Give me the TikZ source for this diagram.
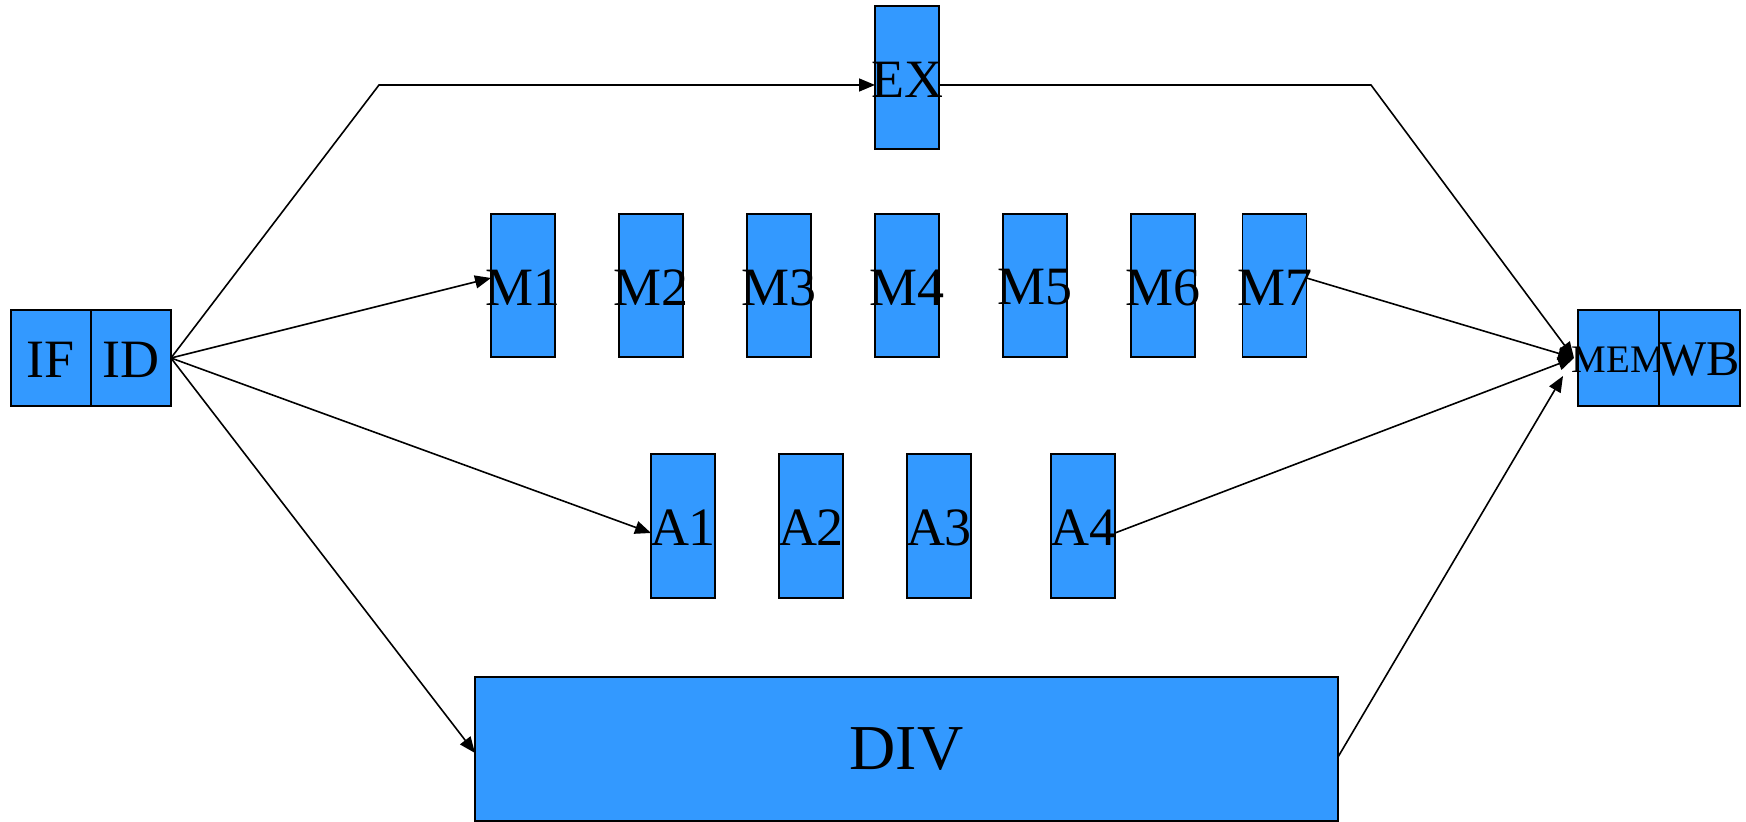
\documentclass[tikz,border=0pt]{standalone}
\usepackage{fontspec}
\setmainfont{Liberation Serif}
\usetikzlibrary{arrows.meta,calc}
\definecolor{boxblue}{RGB}{51,153,255}
\tikzset{
  blk/.style={draw=black, fill=boxblue, line width=0.9pt, inner sep=0pt, outer sep=0pt, rectangle},
  tall/.style={blk, minimum width=32pt, minimum height=71.5pt},
  half/.style={blk, minimum width=40pt, minimum height=48pt},
  lf/.style={label={[font=\fontsize{27}{27}\selectfont, inner sep=0pt, yshift=-1pt]center:#1}},
  conn/.style={line width=0.8pt, -{Triangle[length=8pt,width=6.5pt]}},
}
\begin{document}
\begin{tikzpicture}[x=0.5pt,y=-0.5pt]
\useasboundingbox (0,0) rectangle (1746,822);
% left pipeline boxes
\node[half, lf=IF] (if) at (51,358) {};
\node[half, lf=ID] (id) at (131,358) {};
% right pipeline boxes
\node[half, minimum width=40.5pt, label={[font=\fontsize{19.5}{19.5}\selectfont, inner sep=0pt, yshift=-1pt]center:MEM}] (mem) at (1618.5,358) {};
\node[half, minimum width=40.5pt, label={[font=\fontsize{25}{25}\selectfont, inner sep=0pt, yshift=-1pt]center:WB}] (wb) at (1699.5,358) {};
% EX
\node[tall, lf=EX] (ex) at (907,77.5) {};
% multiplier stages
\node[tall, lf=M1] (m1) at (523,285.5) {};
\node[tall, lf=M2] (m2) at (651,285.5) {};
\node[tall, lf=M3] (m3) at (779,285.5) {};
\node[tall, lf=M4] (m4) at (907,285.5) {};
\node[tall, lf=M5] (m5) at (1035,285.5) {};
\node[tall, lf=M6] (m6) at (1163,285.5) {};
\node[tall, lf=M7] (m7) at (1274.5,285.5) {};
% adder stages
\node[tall, minimum height=72pt, lf=A1] (a1) at (683,526) {};
\node[tall, minimum height=72pt, lf=A2] (a2) at (811,526) {};
\node[tall, minimum height=72pt, lf=A3] (a3) at (939,526) {};
\node[tall, minimum height=72pt, lf=A4] (a4) at (1083,526) {};
% divider
\node[blk, minimum width=431.5pt, minimum height=72pt,
      label={[font=\fontsize{32}{32}\selectfont, inner sep=0pt]center:DIV}] (div) at (906.5,749) {};
% route points
\coordinate (c1) at (379,85);
\coordinate (c2) at (1371,85);
\coordinate (memin) at (1574,358);
\coordinate (memin2) at (1563,376);
% connectors
\draw[conn] (id.east) -- (c1) -- ($(ex.west)+(0,7.5)$);
\draw[conn] ($(ex.east)+(0,7.5)$) -- (c2) -- (memin);
\draw[conn] (id.east) -- ($(m1.west)+(0,-7.5)$);
\draw[conn] ($(m7.east)+(0,-7.5)$) -- (memin);
\draw[conn] (id.east) -- ($(a1.west)+(0,7)$);
\draw[conn] ($(a4.east)+(0,7)$) -- (memin);
\draw[conn] (id.east) -- ($(div.west)+(0,4)$);
\draw[conn] ($(div.east)+(0,8)$) -- (memin2);
\end{tikzpicture}
\end{document}
